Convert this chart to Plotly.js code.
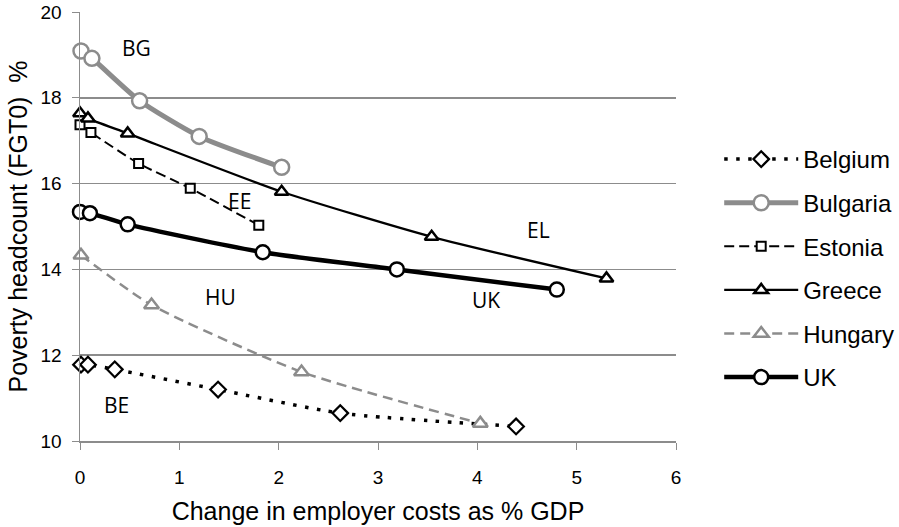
<!DOCTYPE html>
<html><head><meta charset="utf-8">
<script src="https://cdn.plot.ly/plotly-3.0.1.min.js"></script>
<style>body{margin:0;background:#fff}#chart{width:899px;height:527px}</style>
</head><body><div id="chart"></div>
<script>
const names = ["Belgium","Bulgaria","Estonia","Greece","Hungary","UK"];
const beX = [0.01, 0.08, 0.35, 1.39, 2.62, 4.39];
const beY = [11.78, 11.78, 11.67, 11.20, 10.65, 10.34];
const bgX = [0.01, 0.12, 0.60, 1.20, 2.03];
const bgY = [19.09, 18.92, 17.93, 17.10, 16.38];
const eeX = [0.0, 0.11, 0.59, 1.11, 1.80];
const eeY = [17.37, 17.19, 16.47, 15.89, 15.03];
const elX = [0.0, 0.08, 0.48, 2.03, 3.54, 5.30];
const elY = [17.64, 17.52, 17.17, 15.81, 14.76, 13.79];
const huX = [0.01, 0.72, 2.23, 4.03];
const huY = [14.33, 13.17, 11.61, 10.41];
const ukX = [0.0, 0.10, 0.48, 1.84, 3.19, 4.80];
const ukY = [15.34, 15.31, 15.05, 14.40, 14.00, 13.53];
const labels = ["BG","EE","HU","EL","UK","BE"];
const labelX = [0.57, 1.61, 1.41, 4.62, 4.09, 0.37];
const labelY = [19.16, 15.59, 13.35, 14.92, 13.28, 10.83];

function tr(name, x, y, color, width, dash, symbol, size, mcolor, lw){
  return {type:'scatter', mode:'lines+markers', name:name, x:x, y:y, cliponaxis:false,
    line:{color:color, width:width, dash:dash, shape:'spline', smoothing:0.6},
    marker:{symbol:symbol, size:size, color:'#ffffff', line:{color:mcolor, width:lw}},
    legendgroup:name};
}
const data = [
  tr(names[0], beX, beY, '#000000', 3.5, '3.5px,8.5px', 'diamond', 12, '#000000', 2.2),
  tr(names[1], bgX, bgY, '#8c8c8c', 5, 'solid', 'circle', 15, '#8c8c8c', 2.5),
  tr(names[2], eeX, eeY, '#000000', 2, '10px,5px', 'square', 9, '#000000', 2),
  tr(names[3], elX, elY, '#000000', 2.3, 'solid', 'triangle-up', 12, '#000000', 2.5),
  tr(names[4], huX, huY, '#8c8c8c', 2.5, '10px,6px', 'triangle-up', 13, '#8c8c8c', 2.5),
  tr(names[5], ukX, ukY, '#000000', 4.5, 'solid', 'circle', 14, '#000000', 2.5)
];

const annotations = labels.map((t,i)=>({x:labelX[i], y:labelY[i], text:t, showarrow:false,
  font:{family:'Open Sans, sans-serif', size:21, color:'#000'}}));

const layout = {
  width:899, height:527,
  margin:{l:80, r:223, t:12, b:86},
  paper_bgcolor:'#fff', plot_bgcolor:'#fff',
  font:{family:'Liberation Sans, Arial, sans-serif', color:'#000'},
  xaxis:{range:[0,6], dtick:1, tick0:0, showgrid:false, zeroline:false, automargin:false,
    showline:true, linecolor:'#8c8c8c', linewidth:1.5, ticks:'outside', ticklen:7, tickcolor:'#8c8c8c',
    ticklabelstandoff:12,
    tickfont:{size:19}, title:{text:'Change in employer costs as % GDP', font:{size:25}, standoff:15}},
  yaxis:{range:[10,20], dtick:2, tick0:10, showgrid:true, gridcolor:'#8c8c8c', gridwidth:1.5, zeroline:false, automargin:false,
    showline:true, linecolor:'#8c8c8c', linewidth:1.5, ticks:'outside', ticklen:7, tickcolor:'#8c8c8c',
    ticklabelstandoff:6,
    tickfont:{size:19}, title:{text:'Poverty headcount (FGT0)  %', font:{size:25}, standoff:6}},
  legend:{xref:'container', yref:'container', x:0.8, xanchor:'left', y:0.4905, yanchor:'middle',
    font:{size:24}, itemwidth:74, traceorder:'grouped', tracegroupgap:9.4, bgcolor:'rgba(0,0,0,0)'},
  annotations:annotations,
  showlegend:true
};
Plotly.newPlot('chart', data, layout, {displayModeBar:false, staticPlot:true});
</script></body></html>
